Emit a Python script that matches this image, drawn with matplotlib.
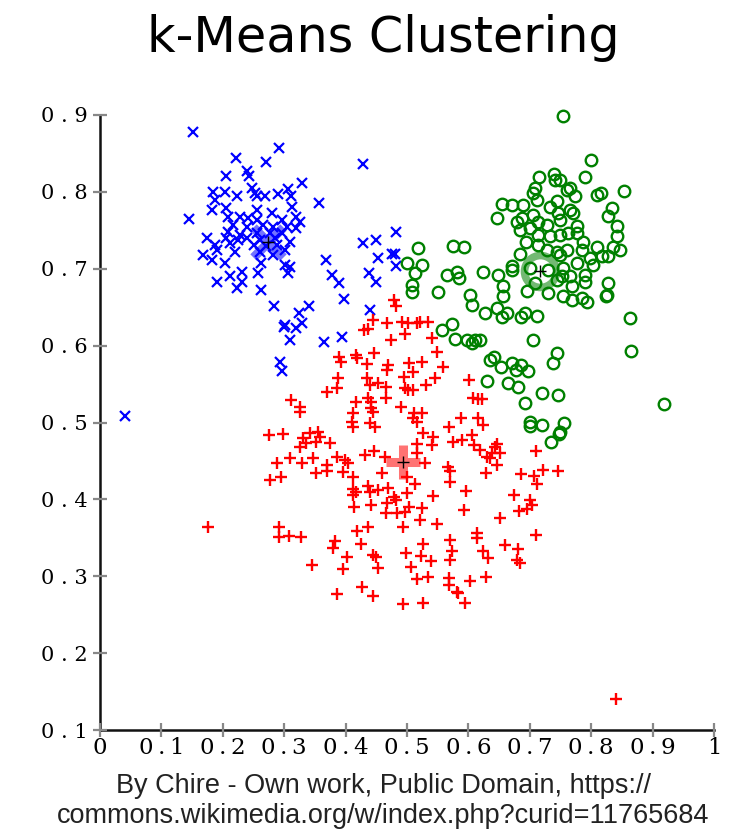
import matplotlib
matplotlib.use("Agg")
import matplotlib.pyplot as plt

blue_pts = [
(.152,.878),(.292,.857),(.221,.844),(.271,.839),(.205,.821),(.239,.827),(.243,.821),(.329,.812),
(.247,.805),(.184,.800),(.204,.800),(.252,.798),(.255,.794),(.223,.794),(.306,.804),(.290,.797),
(.311,.794),(.269,.794),(.187,.789),(.182,.777),(.357,.785),(.145,.765),(.313,.780),(.206,.779),
(.255,.777),(.280,.772),(.209,.767),(.228,.767),(.241,.766),(.255,.763),(.296,.763),(.320,.767),
(.326,.761),(.217,.757),(.239,.754),(.266,.757),(.282,.754),(.304,.754),(.320,.753),(.209,.748),
(.228,.744),(.255,.746),(.277,.746),(.296,.746),(.174,.740),(.206,.740),(.225,.737),(.239,.740),
(.261,.737),(.285,.740),(.309,.735),(.187,.731),(.212,.733),(.250,.731),(.271,.729),(.288,.731),
(.168,.718),(.190,.724),(.220,.722),(.261,.722),(.282,.718),(.301,.724),(.182,.711),(.204,.707),
(.263,.707),(.301,.705),(.309,.702),(.368,.711),(.258,.694),(.306,.694),(.231,.696),(.212,.690),
(.231,.683),(.190,.683),(.223,.675),(.263,.672),(.378,.692),(.389,.681),(.397,.661),(.283,.652),
(.341,.652),(.324,.642),(.302,.627),(.329,.629),(.320,.623),(.429,.836),(.482,.748),(.429,.734),
(.449,.737),(.452,.714),(.475,.719),(.480,.719),(.482,.703),(.438,.694),(.449,.683),(.440,.646),
(.394,.611),(.300,.624),(.309,.607),(.365,.605),(.293,.579),(.296,.567),(.041,.509),
]
blue_x = [p[0] for p in blue_pts]
blue_y = [p[1] for p in blue_pts]

green_pts = [
(.754,.899),(.800,.841),(.790,.819),(.853,.801),(.715,.819),(.739,.823),(.741,.815),(.749,.815),
(.709,.805),(.706,.799),(.711,.789),(.760,.802),(.765,.805),(.773,.795),(.809,.796),(.816,.799),
(.655,.784),(.671,.783),(.689,.783),(.647,.766),(.679,.761),(.706,.770),(.733,.780),(.744,.788),
(.746,.772),(.765,.776),(.770,.772),(.834,.779),(.827,.769),(.684,.750),(.700,.753),(.713,.761),
(.728,.757),(.749,.763),(.777,.756),(.777,.747),(.842,.756),(.842,.742),(.694,.735),(.713,.744),
(.733,.742),(.749,.744),(.762,.747),(.787,.735),(.809,.728),(.835,.728),(.847,.724),(.713,.731),
(.728,.724),(.744,.722),(.760,.724),(.785,.724),(.684,.719),(.749,.718),(.798,.714),(.818,.716),
(.827,.716),(.777,.708),(.803,.705),(.700,.701),(.730,.698),(.754,.701),(.671,.698),(.624,.696),
(.648,.692),(.752,.690),(.765,.690),(.790,.692),(.656,.677),(.708,.681),(.744,.685),(.769,.677),
(.790,.683),(.827,.681),(.695,.671),(.730,.669),(.754,.664),(.826,.666),(.656,.664),(.769,.659),
(.785,.662),(.793,.657),(.824,.665),(.627,.642),(.647,.649),(.655,.637),(.663,.642),(.686,.637),
(.692,.642),(.712,.639),(.863,.636),(.619,.607),(.705,.607),(.865,.593),(.635,.581),(.642,.585),
(.653,.572),(.671,.577),(.686,.575),(.678,.568),(.697,.567),(.744,.590),(.738,.577),(.630,.554),
(.665,.551),(.681,.546),(.692,.525),(.720,.538),(.746,.536),(.919,.524),(.700,.501),(.700,.495),
(.720,.497),(.756,.499),(.749,.488),(.748,.485),(.734,.475),(.518,.727),(.575,.730),(.593,.728),
(.500,.708),(.524,.705),(.513,.694),(.565,.692),(.581,.696),(.585,.688),(.508,.679),(.508,.670),
(.550,.670),(.603,.666),(.606,.653),(.573,.628),(.557,.620),(.578,.609),(.598,.607),(.606,.603),
(.611,.607),(.671,.704),(.687,.766),
]
green_x = [p[0] for p in green_pts]
green_y = [p[1] for p in green_pts]

red_pts = [
(.479,.659),(.482,.652),(.445,.633),(.430,.620),(.436,.622),(.467,.629),(.492,.631),(.502,.629),
(.516,.629),(.521,.631),(.534,.631),(.497,.615),(.474,.607),(.541,.610),(.446,.590),(.417,.588),
(.419,.584),(.389,.585),(.392,.579),(.549,.592),(.435,.576),(.469,.575),(.467,.568),(.503,.577),
(.510,.566),(.524,.579),(.559,.572),(.388,.558),(.435,.558),(.495,.559),(.546,.558),(.453,.551),
(.466,.546),(.440,.549),(.531,.549),(.386,.545),(.370,.540),(.497,.545),(.502,.542),(.510,.542),
(.601,.555),(.607,.532),(.616,.531),(.622,.531),(.417,.527),(.436,.532),(.442,.527),(.442,.519),
(.445,.514),(.466,.532),(.490,.520),(.311,.529),(.326,.520),(.326,.514),(.412,.512),(.410,.501),
(.412,.494),(.440,.499),(.448,.494),(.511,.512),(.510,.506),(.516,.501),(.524,.512),(.588,.506),
(.616,.506),(.624,.497),(.568,.494),(.526,.486),(.542,.481),(.275,.484),(.298,.485),(.342,.486),
(.355,.488),(.358,.481),(.331,.480),(.336,.473),(.352,.474),(.375,.473),(.326,.468),(.446,.463),
(.516,.472),(.541,.471),(.575,.475),(.590,.477),(.606,.484),(.609,.471),(.643,.468),(.638,.460),
(.635,.454),(.288,.447),(.310,.454),(.329,.447),(.347,.454),(.370,.445),(.386,.455),(.399,.451),
(.404,.447),(.432,.458),(.464,.455),(.516,.460),(.529,.447),(.567,.442),(.277,.425),(.294,.429),
(.352,.434),(.370,.437),(.396,.436),(.412,.429),(.459,.434),(.500,.429),(.513,.420),(.412,.413),
(.417,.410),(.412,.406),(.436,.417),(.440,.410),(.453,.412),(.469,.415),(.479,.403),(.482,.399),
(.500,.408),(.542,.404),(.414,.390),(.441,.393),(.467,.395),(.466,.382),(.484,.382),(.497,.384),
(.503,.390),(.524,.389),(.521,.373),(.549,.368),(.493,.364),(.570,.437),(.570,.423),(.596,.411),
(.593,.386),(.629,.434),(.630,.455),(.647,.445),(.619,.464),(.686,.433),(.707,.430),(.721,.438),
(.712,.420),(.674,.406),(.700,.399),(.704,.393),(.695,.388),(.682,.385),(.651,.376),(.292,.364),
(.292,.351),(.308,.352),(.327,.351),(.419,.359),(.436,.364),(.383,.346),(.380,.337),(.425,.342),
(.402,.325),(.445,.328),(.450,.325),(.345,.315),(.396,.309),(.453,.311),(.498,.330),(.526,.342),
(.523,.326),(.539,.320),(.507,.312),(.516,.296),(.534,.299),(.570,.347),(.573,.333),(.570,.321),
(.614,.356),(.614,.350),(.624,.333),(.632,.324),(.660,.341),(.681,.335),(.679,.321),(.684,.317),
(.710,.354),(.568,.298),(.568,.289),(.603,.294),(.629,.299),(.581,.280),(.583,.278),(.594,.265),
(.386,.277),(.427,.286),(.445,.274),(.493,.264),(.526,.265),(.176,.364),(.840,.140),(.647,.472),
(.652,.460),(.710,.463),(.746,.437),
]
red_x = [p[0] for p in red_pts]
red_y = [p[1] for p in red_pts]

centroid_x = [0.274, 0.717, 0.494]
centroid_y = [0.735, 0.697, 0.449]

x_ticks = [0, 0.1, 0.2, 0.3, 0.4, 0.5, 0.6, 0.7, 0.8, 0.9, 1.0]
x_labels = ["0", "0.1", "0.2", "0.3", "0.4", "0.5", "0.6", "0.7", "0.8", "0.9", "1"]
y_ticks = [0.1, 0.2, 0.3, 0.4, 0.5, 0.6, 0.7, 0.8, 0.9]
y_labels = ["0.1", "0.2", "0.3", "0.4", "0.5", "0.6", "0.7", "0.8", "0.9"]

W, H = 739, 833
fig = plt.figure(figsize=(W / 100, H / 100), dpi=100)
ax = fig.add_axes([100 / W, (H - 730) / H, 614 / W, 615 / H])

ax.plot(blue_x, blue_y, linestyle="none", marker="x", color="#0000ff", ms=7.3, mew=1.6, clip_on=False)
ax.plot(green_x, green_y, linestyle="none", marker="o", mfc="none", mec="#008000", ms=8.3, mew=1.7, clip_on=False)
ax.plot(red_x, red_y, linestyle="none", marker="+", color="#ff0000", ms=8.8, mew=1.7, clip_on=False)

# centroids
ax.plot(centroid_x[0], centroid_y[0], marker="x", color="#0000ff", alpha=0.55, ms=21, mew=6.5, linestyle="none")
ax.plot(centroid_x[1], centroid_y[1], marker="o", mfc="none", mec="#008000", alpha=0.55, ms=23, mew=5.5, linestyle="none")
ax.plot(centroid_x[2], centroid_y[2], marker="+", color="#ff0000", alpha=0.55, ms=25, mew=6.5, linestyle="none")
ax.plot(centroid_x, centroid_y, marker="+", color="black", ms=8, mew=1, linestyle="none")

ax.set_xlim(0, 1)
ax.set_ylim(0.1, 0.9)
for s in ["top", "right"]:
    ax.spines[s].set_visible(False)
for s in ["left", "bottom"]:
    ax.spines[s].set_linewidth(1.8)
    ax.spines[s].set_color("#111111")
    ax.spines[s].set_zorder(0.5)

ax.set_xticks(x_ticks)
ax.set_xticklabels([l.replace(".", "\u2009.\u2009") if l not in ("0", "1") else l for l in x_labels],
                   family="DejaVu Serif", fontsize=16.5)
ax.set_yticks(y_ticks)
ax.set_yticklabels([l.replace(".", " . ") for l in y_labels], family="DejaVu Serif", fontsize=15)
ax.tick_params(axis="both", direction="inout", length=9.5, width=1.6, color="#888888")
ax.tick_params(axis="x", pad=0)
ax.tick_params(axis="y", pad=4)

fig.text(383 / W, 1 - 38 / H, "k-Means Clustering", ha="center", va="center",
         family="DejaVu Sans", fontsize=35.5)
fig.text(383 / W, 1 - 786 / H, "By Chire - Own work, Public Domain, https://", ha="center", va="center",
         family="Liberation Sans", fontsize=19.5, color="#222222")
fig.text(383 / W, 1 - 816 / H, "commons.wikimedia.org/w/index.php?curid=11765684", ha="center", va="center",
         family="Liberation Sans", fontsize=19.5, color="#222222")

fig.savefig("out.png", dpi=100)
